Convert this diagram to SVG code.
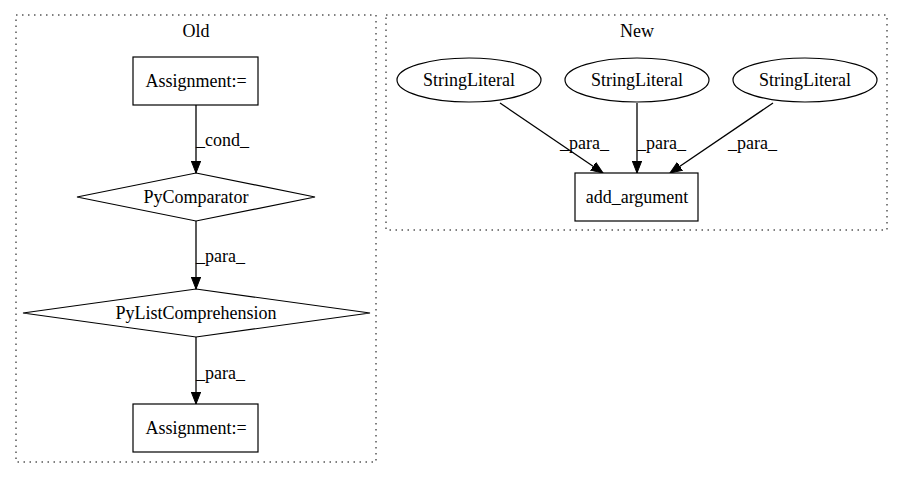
<svg xmlns="http://www.w3.org/2000/svg" width="920" height="480" viewBox="0 0 920 480">
<defs>
<marker id="ah" markerWidth="14" markerHeight="12" refX="12" refY="6" orient="auto" markerUnits="userSpaceOnUse">
<path d="M0,1.3 L12,6 L0,10.7 Z" fill="#000" stroke="#000"/>
</marker>
<style>
text{font-family:"Liberation Serif","Times New Roman",serif;font-size:18px;fill:#000}
.c{text-anchor:middle}
.cl{fill:none;stroke:#000;stroke-dasharray:1.5,4.5;stroke-width:1}
.n{fill:#fff;stroke:#000;stroke-width:1.2}
.e{fill:none;stroke:#000;stroke-width:1.3;marker-end:url(#ah)}
</style>
</defs>
<rect width="920" height="480" fill="#fff"/>
<g id="cluster_old">
<rect class="cl" x="16" y="15" width="360" height="447"/>
<text class="c" x="196" y="37">Old</text>
</g>
<g id="cluster_new">
<rect class="cl" x="386" y="15" width="501" height="215"/>
<text class="c" x="637" y="37">New</text>
</g>
<g id="connectors">
<path class="e" d="M196,105 L196,173"/>
<text x="196" y="146">_cond_</text>
<path class="e" d="M196,221 L196,289"/>
<text x="196" y="262">_para_</text>
<path class="e" d="M196,337 L196,404"/>
<text x="196" y="379">_para_</text>
<path class="e" d="M500,103 L603,173"/>
<text x="560" y="149">_para_</text>
<path class="e" d="M637,103 L637,173"/>
<text x="637" y="149">_para_</text>
<path class="e" d="M773,103 L670,173"/>
<text x="728" y="149">_para_</text>
</g>
<g id="n_assign1">
<rect class="n" x="133" y="57" width="125" height="48"/>
<text class="c" x="196" y="87">Assignment:=</text>
</g>
<g id="n_pycomp">
<polygon class="n" points="196,173 315,197 196,221 77,197"/>
<text class="c" x="196" y="203">PyComparator</text>
</g>
<g id="n_pylist">
<polygon class="n" points="196,289 370,313 196,337 23,313"/>
<text class="c" x="196" y="319">PyListComprehension</text>
</g>
<g id="n_assign2">
<rect class="n" x="133" y="404" width="125" height="48"/>
<text class="c" x="196" y="434">Assignment:=</text>
</g>
<g id="n_str1">
<ellipse class="n" cx="469" cy="80" rx="72" ry="22"/>
<text class="c" x="469" y="86">StringLiteral</text>
</g>
<g id="n_str2">
<ellipse class="n" cx="637" cy="80" rx="72" ry="22"/>
<text class="c" x="637" y="86">StringLiteral</text>
</g>
<g id="n_str3">
<ellipse class="n" cx="805" cy="80" rx="72" ry="22"/>
<text class="c" x="805" y="86">StringLiteral</text>
</g>
<g id="n_addarg">
<rect class="n" x="575" y="173" width="123" height="48"/>
<text class="c" x="637" y="203">add_argument</text>
</g>
</svg>
